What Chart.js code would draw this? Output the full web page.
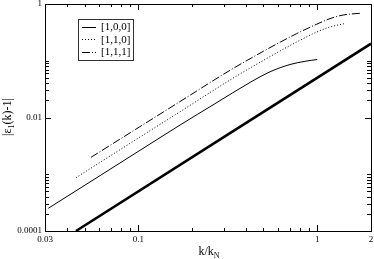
<!DOCTYPE html>
<html lang="en">
<head>
<meta charset="UTF-8">
<title>eps chart</title>
<script src="https://cdn.jsdelivr.net/npm/chart.js"></script>
<style>
  html, body { margin: 0; padding: 0; background: #fff; }
</style>
</head>
<body>
<canvas id="myChart" width="374" height="259"></canvas>
<script>
// values (k/kN, |eps1(k)-1|)
const k100 = [0.0313, 0.061, 0.102, 0.171, 0.268, 0.421, 0.545, 0.705, 0.855, 1.0];
const e100 = [2.51e-4, 9.47e-4, 2.64e-3, 7.38e-3, 0.0175, 0.0415, 0.0639, 0.0859, 0.0978, 0.1052];

const k110 = [0.0447, 0.0897, 0.171, 0.3254, 0.4995, 0.768, 0.994, 1.18, 1.432];
const e110 = [8.69e-4, 3.5e-3, 0.01265, 0.0458, 0.1014, 0.214, 0.321, 0.3933, 0.4533];

const k111 = [0.0543, 0.102, 0.171, 0.3254, 0.4995, 0.768, 0.994, 1.18, 1.4, 1.737];
const e111 = [1.99e-3, 6.91e-3, 0.01914, 0.0679, 0.1467, 0.3009, 0.4406, 0.553, 0.64, 0.686];

const kRef = [0.0447, 2];
const eRef = [1e-4, 0.2];

const legendNames = ['[1,0,0]', '[1,1,0]', '[1,1,1]'];

const xLabels = [0.03, 0.1, 1, 2];
const xMajor = [0.1, 1];
const xMinor = [0.04, 0.05, 0.06, 0.07, 0.08, 0.09, 0.2, 0.3, 0.4, 0.5, 0.6, 0.7, 0.8, 0.9];
const yLabels = [0.0001, 0.01, 1];
const yMinor = [0.0002, 0.0003, 0.0004, 0.0005, 0.0006, 0.0007, 0.0008, 0.0009, 0.001,
                0.02, 0.03, 0.04, 0.05, 0.06, 0.07, 0.08, 0.09, 0.1];

function pts(xs, ys) {
    return xs.map((v, i) => ({x: v, y: ys[i]}));
}

const serif = '"Liberation Serif", "DejaVu Serif", serif';
const dashes = [[], [1, 2], [8, 2, 1, 2]];

// frame, inward ticks, legend, axis titles
const decor = {
    id: 'decor',
    afterDatasetsDraw(chart) {
        const c = chart.ctx;
        const a = chart.chartArea;
        const xs = chart.scales.x, ys = chart.scales.y;
        c.save();
        c.strokeStyle = '#000';
        c.lineWidth = 1;
        c.beginPath();
        // ticks x (bottom + top)
        const tx = (v, len) => {
            const p = Math.round(xs.getPixelForValue(v)) + 0.5;
            c.moveTo(p, a.bottom); c.lineTo(p, a.bottom - len);
            c.moveTo(p, a.top); c.lineTo(p, a.top + len);
        };
        xMajor.forEach(v => tx(v, 6));
        xMinor.forEach(v => tx(v, 3));
        const ty = (v, len) => {
            const p = Math.round(ys.getPixelForValue(v)) + 0.5;
            c.moveTo(a.left, p); c.lineTo(a.left + len, p);
            c.moveTo(a.right, p); c.lineTo(a.right - len, p);
        };
        ty(0.01, 6);
        yMinor.forEach(v => ty(v, 4));
        c.stroke();
        // frame
        c.strokeRect(Math.round(a.left) + 0.5, Math.round(a.top) + 0.5,
                     Math.round(a.right - a.left), Math.round(a.bottom - a.top));

        // legend
        const lx = 78.5, ly = 19.5, lw = 55, lh = 41;
        c.fillStyle = '#fff';
        c.fillRect(lx, ly, lw, lh);
        c.strokeStyle = '#333';
        c.strokeRect(lx, ly, lw, lh);
        c.font = '11px ' + serif;
        c.textBaseline = 'middle';
        c.fillStyle = '#000';
        legendNames.forEach((n, i) => {
            const yy = 27 + i * 12.4;
            c.beginPath();
            c.strokeStyle = '#000';
            c.setLineDash(dashes[i]);
            c.moveTo(82, Math.round(yy) + 0.5);
            c.lineTo(96, Math.round(yy) + 0.5);
            c.stroke();
            c.setLineDash([]);
            c.fillText(n, 101, yy + 0.5);
        });

        // x title
        c.textBaseline = 'alphabetic';
        c.font = '12px ' + serif;
        const t1 = 'k/k';
        const w1 = c.measureText(t1).width;
        c.font = '8px ' + serif;
        const w2 = c.measureText('N').width;
        let x0 = 209 - (w1 + w2) / 2;
        c.font = '12px ' + serif;
        c.fillText(t1, x0, 255);
        c.font = '8px ' + serif;
        c.fillText('N', x0 + w1, 258);

        // y title (rotated)
        c.translate(11, 117);
        c.rotate(-Math.PI / 2);
        const parts = [['|\u03b5', 12, 0], ['1', 8, 3], ['(k)-1|', 12, 0]];
        let tot = 0;
        parts.forEach(p => { c.font = p[1] + 'px ' + serif; tot += c.measureText(p[0]).width; });
        let px = -tot / 2;
        parts.forEach(p => {
            c.font = p[1] + 'px ' + serif;
            c.fillText(p[0], px, p[2]);
            px += c.measureText(p[0]).width;
        });
        c.restore();
    }
};

const ctx = document.getElementById('myChart').getContext('2d');
const myChart = new Chart(ctx, {
    type: 'scatter',
    data: {
        datasets: [
            {label: legendNames[0], data: pts(k100, e100), borderDash: dashes[0]},
            {label: legendNames[1], data: pts(k110, e110), borderDash: dashes[1]},
            {label: legendNames[2], data: pts(k111, e111), borderDash: dashes[2]},
            {label: 'ref', data: pts(kRef, eRef), borderWidth: 2.5}
        ]
    },
    options: {
        responsive: false,
        animation: false,
        showLine: true,
        layout: {padding: {left: 0, right: 3, top: 4, bottom: 0}},
        elements: {
            point: {radius: 0},
            line: {borderColor: '#000', borderWidth: 1, cubicInterpolationMode: 'monotone'}
        },
        plugins: {legend: {display: false}, tooltip: {enabled: false}},
        scales: {
            x: {
                type: 'logarithmic', min: 0.03, max: 2,
                grid: {display: false, drawTicks: false},
                border: {display: false},
                afterBuildTicks: s => { s.ticks = xLabels.map(v => ({value: v})); },
                afterFit: s => { s.height = 28; s.paddingLeft = 0; s.paddingRight = 0; },
                ticks: {
                    color: '#000', padding: 3, maxRotation: 0, autoSkip: false,
                    font: {family: serif, size: 9},
                    callback: v => String(v)
                }
            },
            y: {
                type: 'logarithmic', min: 0.0001, max: 1,
                grid: {display: false, drawTicks: false},
                border: {display: false},
                afterBuildTicks: s => { s.ticks = yLabels.map(v => ({value: v})); },
                afterFit: s => { s.width = 45; s.paddingTop = 0; s.paddingBottom = 0; },
                ticks: {
                    color: '#000', padding: 3, autoSkip: false,
                    font: {family: serif, size: 9},
                    callback: v => v === 0.0001 ? '0.0001' : String(v)
                }
            }
        }
    },
    plugins: [decor]
});
</script>
</body>
</html>
